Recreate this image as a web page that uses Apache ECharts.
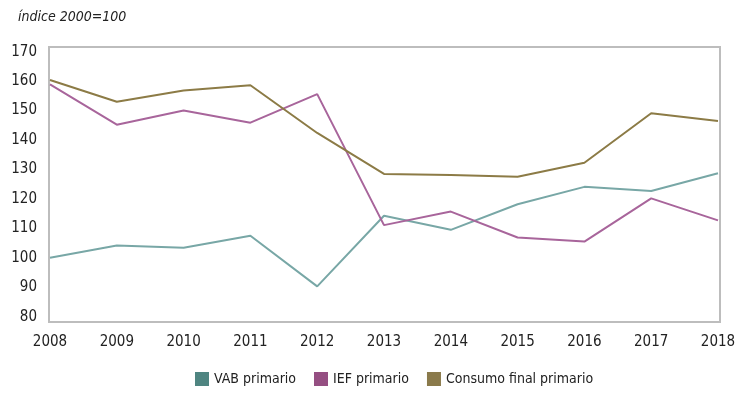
<!DOCTYPE html>
<html>
<head>
<meta charset="utf-8">
<script src="https://cdn.jsdelivr.net/npm/echarts@6/dist/echarts.min.js"></script>
<style>
html,body{margin:0;padding:0;background:#fff;}
#c{width:746px;height:395px;}
</style>
</head>
<body>
<div id="c"></div>
<script>
var years = ['2008','2009','2010','2011','2012','2013','2014','2015','2016','2017','2018'];
var vabPrimario = [100.0, 104.2, 103.4, 107.5, 90.3, 114.3, 109.5, 118.2, 124.1, 122.7, 128.7];
var iefPrimario = [158.9, 145.2, 150.0, 145.9, 155.6, 111.1, 115.7, 106.9, 105.5, 120.2, 112.7];
var consumoFinal = [160.4, 153.0, 156.8, 158.6, 142.4, 128.5, 128.1, 127.5, 132.3, 149.1, 146.5];
var seriesNames = ['VAB primario', 'IEF primario', 'Consumo final primario'];
var yMin = 80, yMax = 170, yStep = 10;

var font = "'Liberation Sans Narrow', 'DejaVu Sans Condensed', 'Arial Narrow', sans-serif";
var lineColors = ['#78a7a6', '#a8659b', '#8c7b46'];
var legendColors = ['#4f8581', '#954f82', '#8a7a4b'];

var chart = echarts.init(document.getElementById('c'), null, {renderer: 'canvas'});
chart.setOption({
  animation: false,
  backgroundColor: '#ffffff',
  textStyle: {fontFamily: font},
  title: {
    text: 'índice 2000=100',
    left: 13, top: 5,
    textStyle: {fontFamily: font, fontStyle: 'italic', fontWeight: 'normal', fontSize: 14, color: '#222'}
  },
  legend: {
    bottom: 4, left: 190,
    itemWidth: 14, itemHeight: 14, itemGap: 18,
    icon: 'rect',
    textStyle: {fontFamily: font, fontSize: 14, color: '#222'},
    data: seriesNames.map(function (n, i) { return {name: n, itemStyle: {color: legendColors[i]}}; })
  },
  grid: [
    {left: 50, right: 28, top: 51.7, bottom: 78.3, show: false},
    {left: 49, right: 26, top: 47, bottom: 73, show: true, borderColor: '#bdbdbd', borderWidth: 2, backgroundColor: 'transparent'}
  ],
  xAxis: [
    {
      type: 'category', gridIndex: 0, data: years, boundaryGap: false,
      axisLine: {show: false}, axisTick: {show: false}, splitLine: {show: false},
      axisLabel: {fontFamily: font, fontSize: 15, color: '#222', margin: 18, interval: 0}
    },
    {type: 'value', gridIndex: 1, show: false, min: 0, max: 1}
  ],
  yAxis: [
    {
      type: 'value', gridIndex: 0, min: yMin, max: yMax, interval: yStep,
      axisLine: {show: false}, axisTick: {show: false}, splitLine: {show: false},
      axisLabel: {fontFamily: font, fontSize: 15, color: '#222', margin: 13}
    },
    {type: 'value', gridIndex: 1, show: false, min: 0, max: 1}
  ],
  series: [
    {name: seriesNames[0], type: 'line', data: vabPrimario, showSymbol: false, symbol: 'none',
     lineStyle: {color: lineColors[0], width: 2}, itemStyle: {color: lineColors[0]}, z: 3},
    {name: seriesNames[1], type: 'line', data: iefPrimario, showSymbol: false, symbol: 'none',
     lineStyle: {color: lineColors[1], width: 2}, itemStyle: {color: lineColors[1]}, z: 4},
    {name: seriesNames[2], type: 'line', data: consumoFinal, showSymbol: false, symbol: 'none',
     lineStyle: {color: lineColors[2], width: 2}, itemStyle: {color: lineColors[2]}, z: 5}
  ]
});
</script>
</body>
</html>
